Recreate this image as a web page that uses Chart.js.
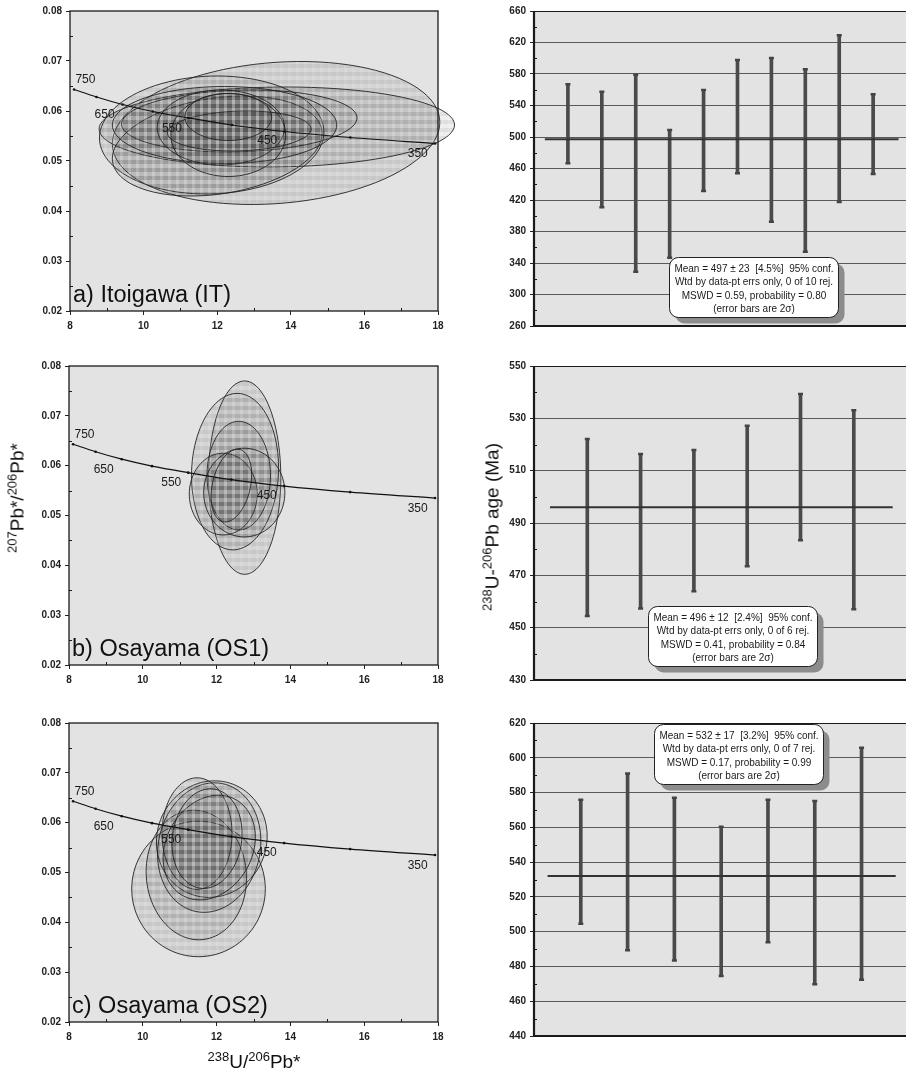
<!DOCTYPE html>
<html>
<head>
<meta charset="utf-8">
<script src="https://cdn.jsdelivr.net/npm/chart.js@4.4.0/dist/chart.umd.min.js"></script>
<style>
body { margin: 0; background: #fff; width: 906px; height: 1073px; overflow: hidden; position: relative; font-family: 'Liberation Sans', Arial, sans-serif; }
canvas { position: absolute; }
.t { position: absolute; white-space: nowrap; font-size: 19px; color: #111; line-height: 1; }
.t sup { font-size: 13px; vertical-align: 7px; line-height: 0; }
</style>
</head>
<body>
<canvas id="cA" width="460" height="340" style="left:0;top:0"></canvas>
<canvas id="cB" width="460" height="340" style="left:0;top:350px"></canvas>
<canvas id="cC" width="460" height="383" style="left:0;top:690px"></canvas>
<canvas id="cD" width="460" height="340" style="left:460px;top:0"></canvas>
<canvas id="cE" width="460" height="340" style="left:460px;top:350px"></canvas>
<canvas id="cF" width="460" height="383" style="left:460px;top:690px"></canvas>

<div class="t" style="left:17px;top:498px;transform:translate(-50%,-50%) rotate(-90deg)"><sup>207</sup>Pb*/<sup>206</sup>Pb*</div>
<div class="t" style="left:492px;top:527px;transform:translate(-50%,-50%) rotate(-90deg)"><sup>238</sup>U-<sup>206</sup>Pb age (Ma)</div>
<div class="t" style="left:254px;top:1061px;transform:translate(-50%,-50%)"><sup>238</sup>U/<sup>206</sup>Pb*</div>

<script>
// concordia (Tera-Wasserburg), ages in Ma
var concAge = [750, 700, 650, 600, 550, 500, 450, 400, 350];
var concX = [8.11, 8.72, 9.43, 10.25, 11.23, 12.40, 13.83, 15.62, 17.92];
var concY = [0.0643, 0.0628, 0.0613, 0.0599, 0.0586, 0.0572, 0.0559, 0.0547, 0.0535];
var concLabel = ['750', '650', '550', '450', '350'];
var concLabelX = [8.42, 8.94, 10.77, 13.36, 17.45];
var concLabelY = [0.0663, 0.0592, 0.0565, 0.0540, 0.0514];

// 2-sigma error ellipses: centre, half-widths, correlation
var itCx  = [13.60, 13.62, 11.85, 12.00, 12.60, 12.20, 12.10, 12.30, 12.60, 12.30];
var itCy  = [0.0556, 0.0568, 0.0552, 0.0530, 0.0580, 0.0572, 0.0567, 0.0552, 0.0560, 0.0588];
var itSx  = [4.45, 4.83, 3.05, 2.85, 3.20, 3.05, 1.73, 1.56, 1.95, 1.18];
var itSy  = [0.0143, 0.0080, 0.0118, 0.0100, 0.0062, 0.0077, 0.0075, 0.0083, 0.0040, 0.0047];
var itRho = [0.15, 0.05, 0.05, 0.25, 0.10, 0.0, 0.0, 0.0, 0.10, 0.0];

var os1Cx  = [12.76, 12.50, 12.60, 12.18, 12.75, 12.40];
var os1Cy  = [0.0576, 0.0588, 0.0580, 0.0543, 0.0546, 0.0560];
var os1Sx  = [0.98, 1.18, 0.86, 0.92, 1.10, 0.55];
var os1Sy  = [0.0194, 0.0157, 0.0109, 0.0082, 0.0089, 0.0073];
var os1Rho = [0.0, 0.05, 0.0, 0.0, 0.0, 0.3];

var os2Cx  = [11.51, 11.45, 11.87, 11.80, 11.47, 11.80, 11.74];
var os2Cy  = [0.0467, 0.0495, 0.0567, 0.0550, 0.0578, 0.0550, 0.0568];
var os2Sx  = [1.81, 1.36, 1.50, 1.40, 0.95, 1.25, 0.95];
var os2Sy  = [0.0136, 0.0130, 0.0117, 0.0130, 0.0112, 0.0105, 0.0100];
var os2Rho = [0.0, -0.05, 0.05, 0.10, 0.0, 0.20, 0.10];

// 238U-206Pb ages with 2-sigma error bars (Ma)
var itAgeHi = [566.9, 557.6, 579.2, 508.9, 559.7, 597.8, 600.3, 585.9, 629.1, 554.2];
var itAgeLo = [466.6, 410.7, 329.0, 346.8, 431.4, 453.9, 392.5, 354.4, 417.5, 453.0];
var itMean = 497;

var os1AgeHi = [522.1, 516.4, 517.9, 527.2, 539.3, 533.1];
var os1AgeLo = [454.5, 457.3, 463.9, 473.5, 483.4, 457.0];
var os1Mean = 496;

var os2AgeHi = [575.8, 590.9, 577.0, 560.4, 575.8, 575.2, 605.7];
var os2AgeLo = [504.6, 489.3, 483.4, 474.5, 493.9, 469.7, 472.4];
var os2Mean = 532;

var itNote = ['Mean = 497 \u00b1 23  [4.5%]  95% conf.', 'Wtd by data-pt errs only, 0 of 10 rej.', 'MSWD = 0.59, probability = 0.80', '(error bars are 2\u03c3)'];
var os1Note = ['Mean = 496 \u00b1 12  [2.4%]  95% conf.', 'Wtd by data-pt errs only, 0 of 6 rej.', 'MSWD = 0.41, probability = 0.84', '(error bars are 2\u03c3)'];
var os2Note = ['Mean = 532 \u00b1 17  [3.2%]  95% conf.', 'Wtd by data-pt errs only, 0 of 7 rej.', 'MSWD = 0.17, probability = 0.99', '(error bars are 2\u03c3)'];

var FONT = "'Liberation Sans', Arial, sans-serif";
var BG = '#e3e3e3';

// checkered fill used for the ellipses
var tile = document.createElement('canvas');
tile.width = 8; tile.height = 8;
(function() {
    var g = tile.getContext('2d');
    g.fillStyle = 'rgba(70,70,70,0.09)'; g.fillRect(0, 0, 8, 8);
    g.fillStyle = 'rgba(70,70,70,0.09)'; g.fillRect(0, 0, 8, 4);
    g.fillStyle = 'rgba(255,255,255,0.10)'; g.fillRect(0, 0, 3, 8);
})();

function framePlugin(opts) {
    return {
        id: 'frame',
        beforeDraw: function(chart) {
            var a = chart.chartArea, ctx = chart.ctx;
            ctx.save();
            ctx.fillStyle = BG;
            ctx.fillRect(a.left, a.top, a.width, a.height);
            ctx.restore();
        },
        afterDraw: function(chart) {
            var a = chart.chartArea, ctx = chart.ctx, x = chart.scales.x, y = chart.scales.y;
            ctx.save();
            ctx.strokeStyle = '#1a1a1a';
            ctx.lineWidth = 1;
            var v, p;
            for (v = y.min + opts.yMinor; v < y.max; v += opts.yMinor * 2) {
                p = Math.round(y.getPixelForValue(v)) + 0.5;
                ctx.beginPath(); ctx.moveTo(a.left, p); ctx.lineTo(a.left + 3, p); ctx.stroke();
            }
            if (opts.xMinor) {
                for (v = x.min + opts.xMinor; v < x.max; v += opts.xMinor * 2) {
                    p = Math.round(x.getPixelForValue(v)) + 0.5;
                    ctx.beginPath(); ctx.moveTo(p, a.bottom); ctx.lineTo(p, a.bottom - 3); ctx.stroke();
                }
            }
            if (opts.box) {
                ctx.lineWidth = 1.3;
                ctx.strokeRect(a.left, a.top, a.width, a.height);
            } else {
                ctx.lineWidth = 1;
                ctx.beginPath(); ctx.moveTo(a.left, a.top + 0.5); ctx.lineTo(a.right, a.top + 0.5); ctx.stroke();
                ctx.lineWidth = 2.2;
                ctx.beginPath(); ctx.moveTo(a.left, a.top); ctx.lineTo(a.left, a.bottom); ctx.lineTo(a.right, a.bottom); ctx.stroke();
            }
            if (opts.label) {
                ctx.fillStyle = '#111';
                ctx.font = '23.5px ' + FONT;
                ctx.textBaseline = 'alphabetic';
                ctx.fillText(opts.label, a.left + 3, a.bottom - 9);
            }
            ctx.restore();
        }
    };
}

function ellipsePlugin(cx, cy, sx, sy, rho) {
    return {
        id: 'ellipses',
        beforeDatasetsDraw: function(chart) {
            var ctx = chart.ctx, x = chart.scales.x, y = chart.scales.y;
            var pat = ctx.createPattern(tile, 'repeat');
            ctx.save();
            ctx.lineWidth = 0.9;
            ctx.strokeStyle = '#222';
            for (var i = 0; i < cx.length; i++) {
                var r = rho[i], q = Math.sqrt(1 - r * r);
                ctx.beginPath();
                for (var k = 0; k <= 96; k++) {
                    var t = k / 96 * Math.PI * 2;
                    var xv = cx[i] + sx[i] * Math.cos(t);
                    var yv = cy[i] + sy[i] * (r * Math.cos(t) + q * Math.sin(t));
                    var px = x.getPixelForValue(xv), py = y.getPixelForValue(yv);
                    if (k === 0) ctx.moveTo(px, py); else ctx.lineTo(px, py);
                }
                ctx.closePath();
                ctx.fillStyle = pat;
                ctx.fill();
                ctx.stroke();
            }
            ctx.restore();
        },
        afterDatasetsDraw: function(chart) {
            var ctx = chart.ctx, x = chart.scales.x, y = chart.scales.y;
            ctx.save();
            ctx.fillStyle = '#1a1a1a';
            ctx.font = '12px ' + FONT;
            ctx.textAlign = 'center';
            ctx.textBaseline = 'middle';
            for (var i = 0; i < concLabel.length; i++) {
                ctx.fillText(concLabel[i], x.getPixelForValue(concLabelX[i]), y.getPixelForValue(concLabelY[i]));
            }
            ctx.restore();
        }
    };
}

function notePlugin(lines, bx, by) {
    return {
        id: 'note',
        afterDatasetsDraw: function(chart) {
            var ctx = chart.ctx, x = chart.scales.x, y = chart.scales.y;
            var w = 169, h = 60;
            var left = Math.round(x.getPixelForValue(bx) - w / 2) + 0.5;
            var top = Math.round(y.getPixelForValue(by)) + 0.5;
            ctx.save();
            ctx.fillStyle = '#8c8c8c';
            ctx.beginPath(); ctx.roundRect(left + 6, top + 6, w, h, 9); ctx.fill();
            ctx.fillStyle = '#fff';
            ctx.strokeStyle = '#222';
            ctx.lineWidth = 1;
            ctx.beginPath(); ctx.roundRect(left, top, w, h, 9); ctx.fill(); ctx.stroke();
            ctx.fillStyle = '#1a1a1a';
            ctx.font = '10px ' + FONT;
            ctx.textAlign = 'center';
            ctx.textBaseline = 'alphabetic';
            for (var i = 0; i < lines.length; i++) {
                ctx.fillText(lines[i], left + w / 2, top + 14.5 + i * 13.4);
            }
            ctx.restore();
        }
    };
}

function makeConcordia(id, cx, cy, sx, sy, rho, label, pad, xAxisH, leftW) {
    var pts = concX.map(function(v, i) { return { x: v, y: concY[i] }; });
    return new Chart(document.getElementById(id), {
        type: 'scatter',
        data: {
            datasets: [{
                type: 'line',
                label: 'Concordia',
                data: pts,
                borderColor: '#111',
                borderWidth: 1.2,
                pointRadius: 1.3,
                pointBackgroundColor: '#111',
                pointBorderWidth: 0,
                cubicInterpolationMode: 'monotone',
                fill: false
            }]
        },
        options: {
            responsive: false,
            animation: false,
            layout: { padding: { top: pad, right: 22, bottom: 0, left: 0 } },
            plugins: { legend: { display: false }, tooltip: { enabled: false } },
            scales: {
                x: {
                    type: 'linear', min: 8, max: 18,
                    afterFit: function(s) { s.height = xAxisH; },
                    grid: { drawOnChartArea: false, drawTicks: true, tickLength: 4, tickColor: '#222' },
                    border: { display: false },
                    ticks: { stepSize: 2, padding: 5, maxRotation: 0, color: '#222', font: { family: FONT, size: 10, weight: 'bold' } }
                },
                y: {
                    type: 'linear', min: 0.02, max: 0.08,
                    afterFit: function(s) { s.width = leftW; },
                    grid: { drawOnChartArea: false, drawTicks: true, tickLength: 4, tickColor: '#222' },
                    border: { display: false },
                    ticks: { stepSize: 0.01, padding: 4, color: '#222', font: { family: FONT, size: 10, weight: 'bold' },
                        callback: function(v) { return v.toFixed(2); } }
                }
            }
        },
        plugins: [framePlugin({ yMinor: 0.005, xMinor: 1, box: true, label: label }), ellipsePlugin(cx, cy, sx, sy, rho)]
    });
}

function makeAges(id, lo, hi, mean, meanX, yMin, yMax, yStep, xMax, note, noteX, noteY, padTop, padBottom) {
    var bars = lo.map(function(v, i) { return { x: i + 1, y: [v, hi[i]] }; });
    var caps = [];
    lo.forEach(function(v, i) { caps.push({ x: i + 1, y: v }); caps.push({ x: i + 1, y: hi[i] }); });
    return new Chart(document.getElementById(id), {
        type: 'bar',
        data: {
            datasets: [{
                type: 'line',
                label: 'Mean',
                data: [{ x: meanX[0], y: mean }, { x: meanX[1], y: mean }],
                borderColor: '#333',
                borderWidth: 2,
                pointRadius: 0
            }, {
                type: 'scatter',
                label: 'caps',
                data: caps,
                pointStyle: 'line',
                pointRadius: 2.5,
                borderWidth: 2.5,
                borderColor: '#444'
            }, {
                type: 'bar',
                label: 'Age',
                data: bars,
                backgroundColor: '#4a4a4a',
                barThickness: 3
            }]
        },
        options: {
            responsive: false,
            animation: false,
            layout: { padding: { top: padTop, right: 0, bottom: padBottom, left: 0 } },
            plugins: { legend: { display: false }, tooltip: { enabled: false } },
            scales: {
                x: { type: 'linear', min: 0, max: xMax, offset: false, display: false, grid: { offset: false } },
                y: {
                    type: 'linear', min: yMin, max: yMax,
                    afterFit: function(s) { s.width = 74; },
                    grid: { drawOnChartArea: true, color: '#5a5a5a', lineWidth: 1, drawTicks: true, tickLength: 4, tickColor: '#222' },
                    border: { display: false },
                    ticks: { stepSize: yStep, padding: 4, color: '#222', font: { family: FONT, size: 10, weight: 'bold' } }
                }
            }
        },
        plugins: [framePlugin({ yMinor: yStep / 2, box: false }), notePlugin(note, noteX, noteY)]
    });
}

makeConcordia('cA', itCx, itCy, itSx, itSy, itRho, 'a) Itoigawa (IT)', 11, 29, 70);
makeConcordia('cB', os1Cx, os1Cy, os1Sx, os1Sy, os1Rho, 'b) Osayama (OS1)', 16, 25, 69);
makeConcordia('cC', os2Cx, os2Cy, os2Sx, os2Sy, os2Rho, 'c) Osayama (OS2)', 33, 51, 69);

makeAges('cD', itAgeLo, itAgeHi, itMean, [0.32, 10.75], 260, 660, 40, 11.19, itNote, 6.47, 348, 11, 14);
makeAges('cE', os1AgeLo, os1AgeHi, os1Mean, [0.3, 6.73], 430, 550, 20, 7.12, os1Note, 3.73, 458.3, 16, 9);
makeAges('cF', os2AgeLo, os2AgeHi, os2Mean, [0.29, 7.73], 440, 620, 20, 8.11, os2Note, 4.38, 619.7, 33, 37);
</script>
</body>
</html>
